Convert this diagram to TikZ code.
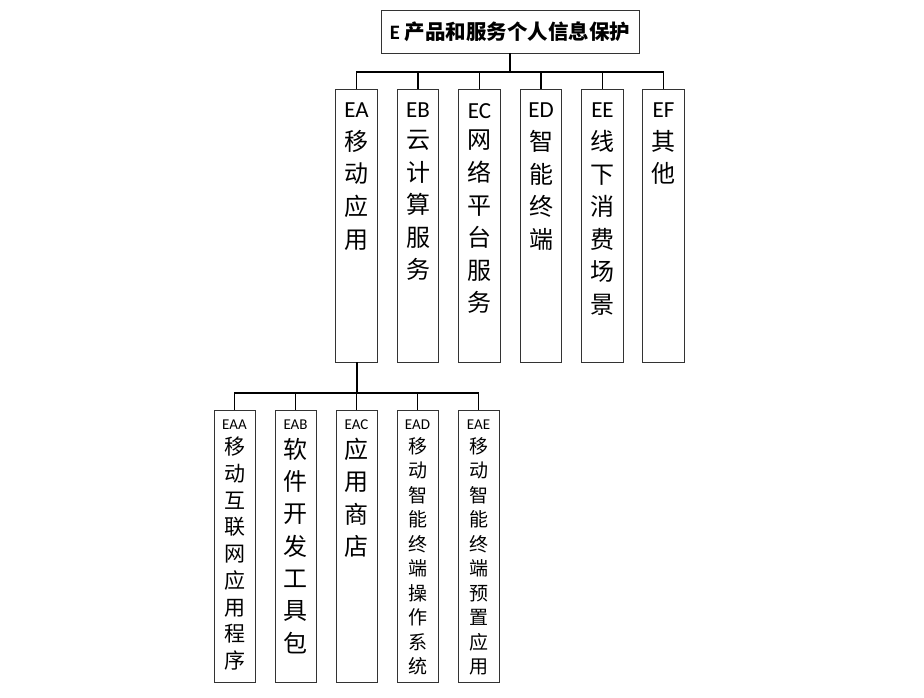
\documentclass[tikz,border=0pt]{standalone}
\usepackage{fontspec}
\setmainfont{Carlito}
\newfontfamily\cjk{Noto Sans CJK SC}
\begin{document}
\begin{tikzpicture}[x=1pt,y=-1pt,
  box/.style={draw=black!80,line width=0.9pt,fill=white,inner sep=0pt,minimum width=41.5pt},
  lvtwo/.style={box,minimum height=273pt},
  lvthree/.style={box,minimum height=272pt,minimum width=41pt},
  code/.style={inner sep=0pt,anchor=north,font=\fontsize{23}{28}\selectfont},
  smallcode/.style={inner sep=0pt,anchor=north,font=\fontsize{15}{18}\selectfont},
  col/.style={inner sep=0pt,anchor=north,align=center},
  bigcol/.style={col,font=\cjk\fontsize{24}{32.6}\selectfont},
  midcol/.style={col,font=\cjk\fontsize{21}{26.7}\selectfont},
  smcol/.style={col,font=\cjk\fontsize{19}{24.5}\selectfont},
  bus/.style={line width=1.6pt,black},
  stub/.style={line width=1.2pt,black}]
\useasboundingbox (0,0) rectangle (924,698);

% top
\node[box,minimum width=258pt,minimum height=43pt,font=\bfseries\fontsize{20.5}{24}\selectfont] (top) at (510,31.5) {E {\cjk 产品和服务个人信息保护}};

% level 2
\foreach \n/\x in {EA/356.5,EB/418,EC/479.5,ED/541,EE/602.5,EF/663.5}
  \node[lvtwo] (\n) at (\x,225.5) {};
\node[code] (EAc) at (356.5,103) {EA};
\node[code] (EBc) at (418,103) {EB};
\node[code] (ECc) at (479.5,103) {EC};
\node[code] (EDc) at (541,103) {ED};
\node[code] (EEc) at (602.5,103) {EE};
\node[code] (EFc) at (663.5,103) {EF};
\node[bigcol] (EAt) at (356.5,130) {移\\动\\应\\用};
\node[bigcol] (EBt) at (418,130) {云\\计\\算\\服\\务};
\node[bigcol] (ECt) at (479.5,130) {网\\络\\平\\台\\服\\务};
\node[bigcol] (EDt) at (541,130) {智\\能\\终\\端};
\node[bigcol] (EEt) at (602.5,130) {线\\下\\消\\费\\场\\景};
\node[bigcol] (EFt) at (663.5,130) {其\\他};

% level 3
\foreach \n/\x in {EAA/234.5,EAB/295.5,EAC/356.5,EAD/417.5,EAE/478.5}
  \node[lvthree] (\n) at (\x,546) {};
\node[smallcode] (EAAc) at (234.5,420) {EAA};
\node[smallcode] (EABc) at (295.5,420) {EAB};
\node[smallcode] (EACc) at (356.5,420) {EAC};
\node[smallcode] (EADc) at (417.5,420) {EAD};
\node[smallcode] (EAEc) at (478.5,420) {EAE};
\node[midcol] (EAAt) at (234.5,437) {移\\动\\互\\联\\网\\应\\用\\程\\序};
\node[bigcol,font=\cjk\fontsize{24}{32.3}\selectfont] (EABt) at (295.5,438) {软\\件\\开\\发\\工\\具\\包};
\node[bigcol,font=\cjk\fontsize{24}{32.3}\selectfont] (EACt) at (356.5,438) {应\\用\\商\\店};
\node[smcol] (EADt) at (417.5,437) {移\\动\\智\\能\\终\\端\\操\\作\\系\\统};
\node[smcol] (EAEt) at (478.5,437) {移\\动\\智\\能\\终\\端\\预\\置\\应\\用};

% connectors level 1 -> 2
\coordinate (b1) at (510,72);
\draw[line width=2pt] (top.south) -- (b1);
\draw[bus] (EA.north) |- (b1) -| (EF.north);
\foreach \n in {EB,EC,ED,EE}
  \draw[stub] (\n.north) -- (\n.north |- b1);

% connectors EA -> level 3
\coordinate (b2) at (356.5,393);
\draw[line width=2pt] (EA.south) -- (b2);
\draw[bus] (EAA.north) |- (b2) -| (EAE.north);
\foreach \n in {EAB,EAC,EAD}
  \draw[stub] (\n.north) -- (\n.north |- b2);
\end{tikzpicture}
\end{document}
